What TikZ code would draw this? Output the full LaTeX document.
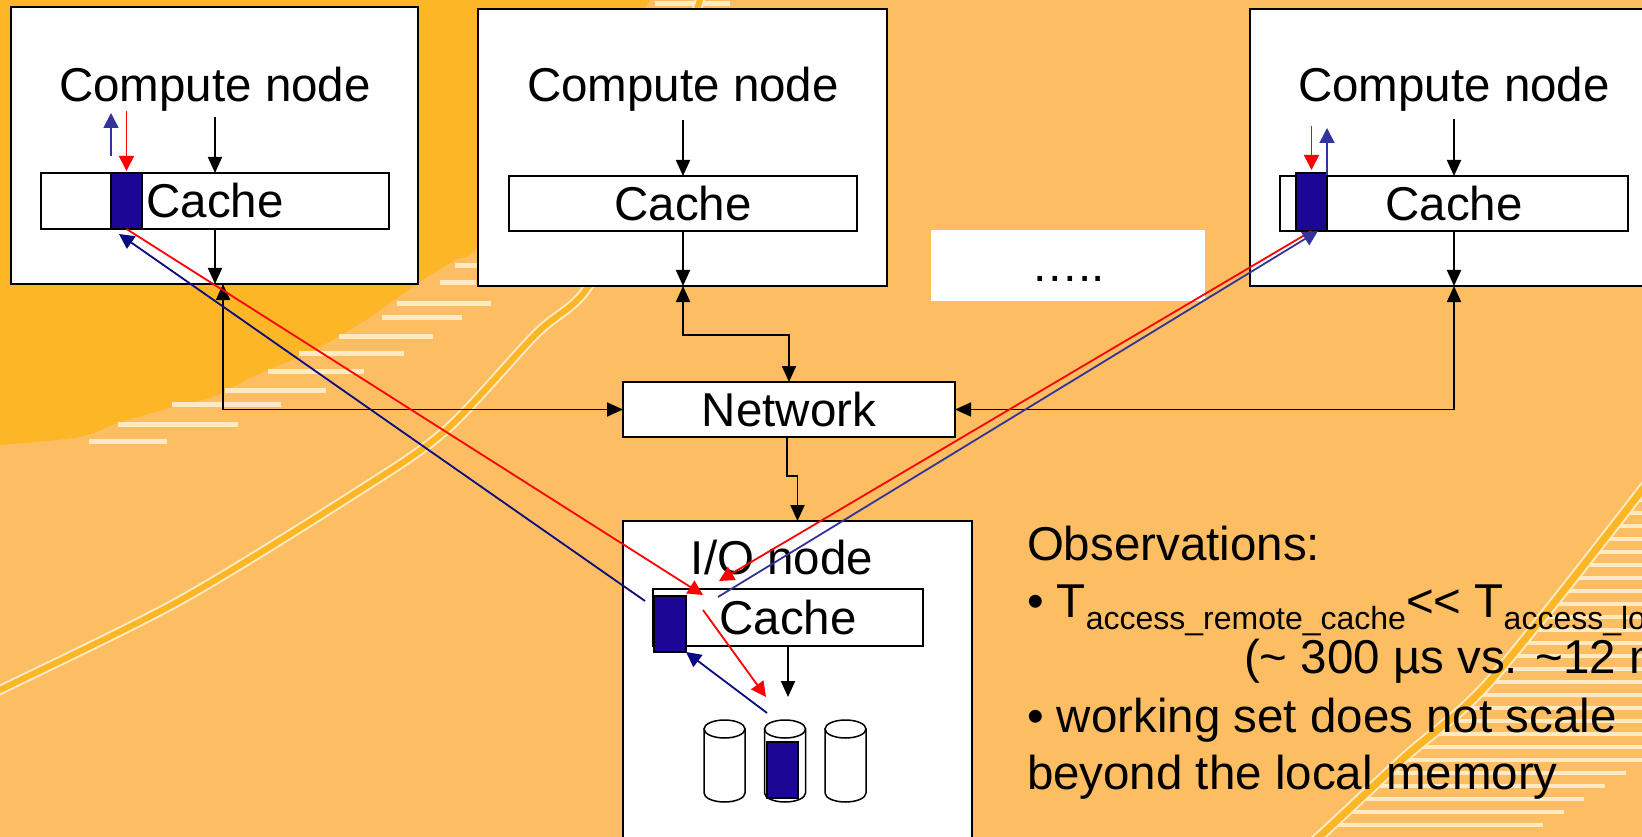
\documentclass[tikz,border=0pt]{standalone}
\usepackage{fontspec}
\setmainfont{Liberation Sans}
\usetikzlibrary{arrows.meta,calc}
\definecolor{bgl}{RGB}{253,190,99}
\definecolor{bgd}{RGB}{253,182,38}
\definecolor{cream}{RGB}{255,234,196}
\definecolor{blkfill}{RGB}{28,6,150}
\definecolor{blueA}{RGB}{51,51,153}
\definecolor{blueB}{RGB}{10,10,130}
\definecolor{redA}{RGB}{255,0,0}
\newcommand\bigfnt{\fontsize{47.5pt}{57pt}\selectfont}
\newcommand\subfnt{\fontsize{32pt}{32pt}\selectfont}
\begin{document}
\begin{tikzpicture}[x=1pt,y=-1pt,
  box/.style={draw=black, line width=2.4pt, fill=white, inner sep=0pt, outer sep=0pt},
  cachebar/.style={draw=black, line width=2pt, fill=white, inner sep=0pt, outer sep=0pt, font=\bigfnt},
  blkbox/.style={draw=black, line width=1.8pt, fill=blkfill, inner sep=0pt, outer sep=0pt},
  lbl/.style={inner sep=0pt, outer sep=0pt, anchor=base, font=\bigfnt},
  obs/.style={inner sep=0pt, outer sep=0pt, anchor=base west, font=\bigfnt},
  arr/.style={draw=black, line width=1.8pt, -{Triangle[length=16pt,width=14pt]}},
  dbl/.style={draw=black, line width=1.8pt, {Triangle[length=16pt,width=14pt]}-{Triangle[length=16pt,width=14pt]}},
  redarr/.style={draw=redA, line width=1.8pt, -{Triangle[length=15pt,width=15pt]}},
  bluearrA/.style={draw=blueA, line width=1.8pt, -{Triangle[length=15pt,width=15pt]}},
  bluearrB/.style={draw=blueB, line width=1.8pt, -{Triangle[length=15pt,width=15pt]}},
  stripe/.style={draw=cream, line width=5pt},
  stripeR/.style={draw=cream, line width=4pt},
  disk/.style={draw=black, line width=1.5pt, fill=white}]

\useasboundingbox (0,0) rectangle (1642,837);
\clip (0,0) rectangle (1642,837);

% background
\fill[bgl] (0,0) rectangle (1642,837);
\fill[bgd] plot[smooth] coordinates {(0,445) (80,437) (118,423) (173,407) (213,397) (250,378) (314,350) (366,320) (418,283) (455,260) (478,247) (560,140) (650,0)} -- (0,0) -- cycle;
\foreach \y/\a/\b in {441/89/167, 424/118/238, 404/172/281, 390/225/326, 371/268/364, 353/299/404, 336/339/433, 317/382/462, 303/397/491, 283/440/476, 266/455/478}
  \draw[stripe] (\a,\y) -- (\b,\y);
\draw[stripe] (655,4) -- (730,4);
\draw[cream, line width=10pt] plot[smooth] coordinates {(-20,700) (0,690) (179,601) (357,492) (446,430) (536,334) (586,290) (640,190) (700,0) (710,-20)};
\draw[bgd, line width=6pt] plot[smooth] coordinates {(-20,700) (0,690) (179,601) (357,492) (446,430) (536,334) (586,290) (640,190) (700,0) (710,-20)};
\begin{scope}
  \clip plot[smooth] coordinates {(1250,900) (1319,837) (1405,757) (1491,680) (1642,490) (1700,410)} -- (1700,900) -- cycle;
  \foreach \y in {500,513,...,836} {
    \pgfmathsetmacro\xe{min(1650,1610-(\y-783)*1.6)}
    \draw[stripeR] (1250,\y) -- (\xe,\y);
  }
\end{scope}
\draw[cream, line width=11pt] plot[smooth] coordinates {(1250,900) (1319,837) (1405,757) (1491,680) (1642,490) (1700,410)};
\draw[bgd, line width=7pt] plot[smooth] coordinates {(1250,900) (1319,837) (1405,757) (1491,680) (1642,490) (1700,410)};

% compute nodes
\node[box, minimum width=407pt, minimum height=277pt] (cn1) at (214.5,145.5) {};
\node[box, minimum width=409pt, minimum height=277pt] (cn2) at (682.5,147.5) {};
\node[box, minimum width=460pt, minimum height=277pt] (cn3) at (1480,147.5) {};
\node[fill=white, inner sep=0pt, outer sep=0pt, minimum width=274pt, minimum height=71pt] (dotsbox) at (1068,265.5) {};
\node[lbl] (dotstxt) at (1068,282) {…..};

\node[lbl] (cn1t) at (215,102) {Compute node};
\node[lbl] (cn2t) at (683,102) {Compute node};
\node[lbl] (cn3t) at (1454,102) {Compute node};

\node[cachebar, minimum width=348pt, minimum height=56pt] (cache1) at (215,201) {Cache};
\node[cachebar, minimum width=348pt, minimum height=55pt] (cache2) at (683,203.5) {Cache};
\node[cachebar, minimum width=348pt, minimum height=55pt] (cache3) at (1454,203.5) {Cache};
\node[blkbox, minimum width=31pt, minimum height=56pt] (blk1) at (126.5,201) {};
\node[blkbox, minimum width=31pt, minimum height=58pt] (blk3) at (1311.5,202) {};

% network and I/O node
\node[box, minimum width=332pt, minimum height=55pt, font=\bigfnt] (net) at (789,409.5) {Network};
\node[box, minimum width=349pt, minimum height=360pt] (io) at (797.5,701) {};
\node[lbl] (iot) at (782,574) {I/O node};
\node[cachebar, minimum width=270pt, minimum height=57pt] (cacheio) at (788,617.5) {Cache};
\node[blkbox, minimum width=32pt, minimum height=56pt] (blkio) at (670,624) {};

% disks
\foreach \cx in {724.5,785,845.5} {
  \filldraw[disk] (\cx-20.5,729) -- (\cx-20.5,793) arc[start angle=180,end angle=360,x radius=20.5pt,y radius=9pt] -- (\cx+20.5,729) -- cycle;
  \filldraw[disk] (\cx,729) ellipse [x radius=20.5pt, y radius=9pt];
}
\node[blkbox, minimum width=31pt, minimum height=56pt] (dblk) at (782.5,770) {};

% black arrows inside nodes
\draw[arr] ([yshift=56pt]cache1.north) -- (cache1.north);
\draw[arr] (cache1.south) -- (cache1.south |- cn1.south);
\draw[arr] ([yshift=56pt]cache2.north) -- (cache2.north);
\draw[arr] (cache2.south) -- (cache2.south |- cn2.south);
\draw[arr] ([yshift=57pt]cache3.north) -- (cache3.north);
\draw[arr] (cache3.south) -- (cache3.south |- cn3.south);
\draw[arr] (cacheio.south) -- ([yshift=-51pt]cacheio.south);

% network connectors
\draw[dbl] ([xshift=8.5pt]cn1.south) |- (net.west);
\draw[dbl] (cache2.south |- cn2.south) -- ++(0,49) -| (net.north);
\draw[dbl] (cache3.south |- cn3.south) |- (net.east);
\draw[arr] ([xshift=-2pt]net.south) -- ++(0,39) -| (io.north);

% small coloured arrows
\draw[bluearrA] ([yshift=17pt]blk1.north west) -- ([yshift=60pt]blk1.north west);
\draw[redarr] ([yshift=62pt]blk1.north) -- ([yshift=2pt]blk1.north);
\draw[redarr] ([yshift=47pt]blk3.north) -- ([yshift=3pt]blk3.north);
\draw[bluearrA] ([yshift=-2pt]blk3.north east) -- ([yshift=45pt]blk3.north east);

% cross connectors
\draw[redarr] (blk1.south) -- ([xshift=17pt,yshift=1pt]blkio.north east);
\draw[bluearrB] ([xshift=-9pt,yshift=-5pt]blkio.north west) -- ([xshift=-7.5pt,yshift=-5pt]blk1.south);
\draw[redarr] (blk3.south) -- ([xshift=33pt,yshift=15pt]blkio.north east);
\draw[bluearrA] ([xshift=32pt,yshift=-1pt]blkio.north east) -- ([xshift=-9pt]blk3.south east);
\draw[redarr] ([xshift=17pt,yshift=-14pt]blkio.north east) -- ([xshift=-16.5pt,yshift=45pt]dblk.north);
\draw[bluearrB] ([xshift=-15.5pt,yshift=29pt]dblk.north) -- (blkio.south east);

% observations
\node[obs] (obs0) at (1027,560) {Observations:};
\node[obs] (obs1) at (1027,617) {• T\raisebox{-12pt}{\subfnt access\_remote\_cache}<\kern0pt< T\raisebox{-12pt}{\subfnt access\_local\_disk}};
\node[obs] (obs2) at (1244,673) {(\textasciitilde{} 300 µs vs. \textasciitilde12 ms)};
\node[obs] (obs3) at (1027,732) {• working set does not scale};
\node[obs] (obs4) at (1027,789) {beyond the local memory};
\end{tikzpicture}
\end{document}
